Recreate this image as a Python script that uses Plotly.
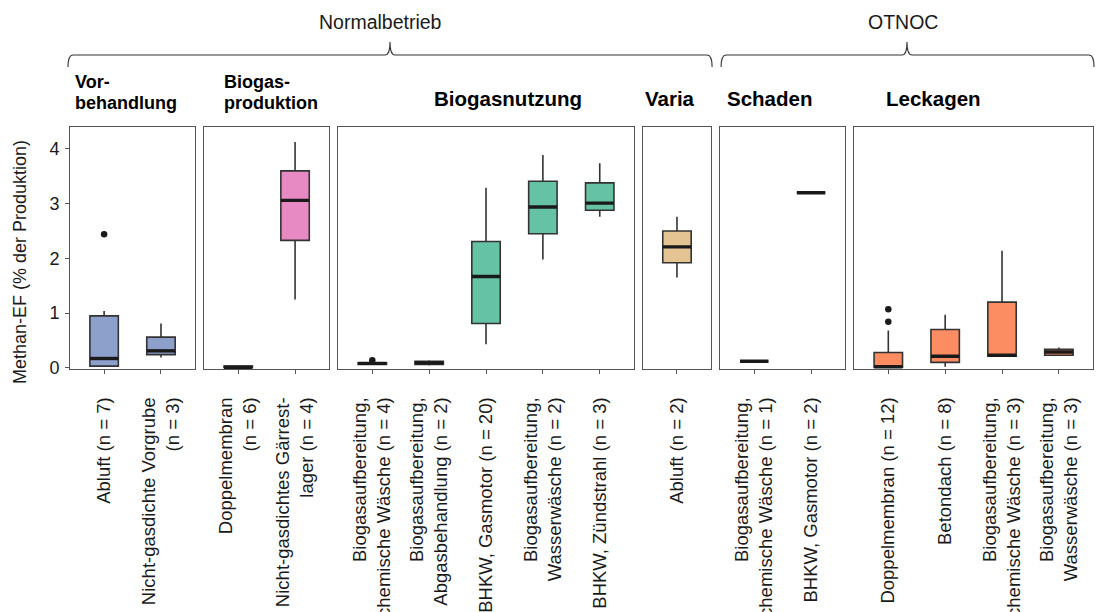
import plotly.graph_objects as go

# ---- data -------------------------------------------------------------
panel_titles = [["Vor-", "behandlung"], ["Biogas-", "produktion"], ["Biogasnutzung"],
                ["Varia"], ["Schaden"], ["Leckagen"]]
panel_colors = ["#8DA0CB", "#E78AC3", "#66C2A5", "#E5C494", "#A6D854", "#FC8D62"]

cats_vorbehandlung = ["Abluft (n = 7)", "Nicht-gasdichte Vorgrube<br>(n = 3)"]
cats_produktion = ["Doppelmembran<br>(n = 6)", "Nicht-gasdichtes Gärrest-<br>lager (n = 4)"]
cats_nutzung = ["Biogasaufbereitung,<br>chemische Wäsche (n = 4)",
                "Biogasaufbereitung,<br>Abgasbehandlung (n = 2)",
                "BHKW, Gasmotor (n = 20)",
                "Biogasaufbereitung,<br>Wasserwäsche (n = 2)",
                "BHKW, Zündstrahl (n = 3)"]
cats_varia = ["Abluft (n = 2)"]
cats_schaden = ["Biogasaufbereitung,<br>chemische Wäsche (n = 1)", "BHKW, Gasmotor (n = 2)"]
cats_leckagen = ["Doppelmembran (n = 12)", "Betondach (n = 8)",
                 "Biogasaufbereitung,<br>chemische Wäsche (n = 3)",
                 "Biogasaufbereitung,<br>Wasserwäsche (n = 3)"]

# box statistics per panel: lower whisker, Q1, median, Q3, upper whisker
lower_vorbehandlung = [0.02, 0.19]
q1_vorbehandlung = [0.03, 0.24]
median_vorbehandlung = [0.17, 0.31]
q3_vorbehandlung = [0.95, 0.56]
upper_vorbehandlung = [1.04, 0.81]

lower_produktion = [0.00, 1.25]
q1_produktion = [0.005, 2.33]
median_produktion = [0.01, 3.06]
q3_produktion = [0.03, 3.60]
upper_produktion = [0.04, 4.13]

lower_nutzung = [0.05, 0.04, 0.43, 1.98, 2.76]
q1_nutzung = [0.06, 0.06, 0.81, 2.45, 2.88]
median_nutzung = [0.08, 0.09, 1.67, 2.94, 3.01]
q3_nutzung = [0.09, 0.12, 2.31, 3.41, 3.38]
upper_nutzung = [0.10, 0.14, 3.29, 3.89, 3.74]

lower_varia = [1.65]
q1_varia = [1.92]
median_varia = [2.21]
q3_varia = [2.50]
upper_varia = [2.76]

lower_schaden = [0.12, 3.20]
q1_schaden = [0.12, 3.20]
median_schaden = [0.12, 3.20]
q3_schaden = [0.12, 3.20]
upper_schaden = [0.12, 3.20]

lower_leckagen = [0.00, 0.02, 0.20, 0.22]
q1_leckagen = [0.01, 0.10, 0.21, 0.23]
median_leckagen = [0.02, 0.21, 0.23, 0.29]
q3_leckagen = [0.28, 0.70, 1.20, 0.34]
upper_leckagen = [0.68, 0.97, 2.14, 0.37]

# outliers: (panel index, category position, value)
outlier_panel = [0, 2, 5, 5]
outlier_pos = [1, 1, 1, 1]
outlier_value = [2.44, 0.14, 0.84, 1.07]

group_labels = ["Normalbetrieb", "OTNOC"]
y_ticks = [0, 1, 2, 3, 4]

panels = [
    (cats_vorbehandlung, lower_vorbehandlung, q1_vorbehandlung, median_vorbehandlung, q3_vorbehandlung, upper_vorbehandlung),
    (cats_produktion, lower_produktion, q1_produktion, median_produktion, q3_produktion, upper_produktion),
    (cats_nutzung, lower_nutzung, q1_nutzung, median_nutzung, q3_nutzung, upper_nutzung),
    (cats_varia, lower_varia, q1_varia, median_varia, q3_varia, upper_varia),
    (cats_schaden, lower_schaden, q1_schaden, median_schaden, q3_schaden, upper_schaden),
    (cats_leckagen, lower_leckagen, q1_leckagen, median_leckagen, q3_leckagen, upper_leckagen),
]

# ---- geometry -------------------------------------------------------------
W, H = 1096, 612
ML, MR, MT, MB = 70, 3, 127, 243
PW, PH = W - ML - MR, H - MT - MB
GAP = 9
BOX_W = 0.5
FONT = "Liberation Sans, Arial, sans-serif"
TXT = "#1a1a1a"
BORDER = "#555555"

units = [len(p[0]) + 0.2 for p in panels]
unit_px = (PW - GAP * (len(panels) - 1)) / sum(units)


def px_x(px):
    return (px - ML) / PW


def px_y(py):
    return (H - MB - py) / PH


fig = go.Figure()
layout = {}
domains = []
left = 0.0
for i, (cats, lo, q1, med, q3, up) in enumerate(panels):
    n = len(cats)
    width_px = units[i] * unit_px
    d0 = left / PW
    d1 = (left + width_px) / PW
    domains.append((d0, d1))
    left += width_px + GAP
    sfx = "" if i == 0 else str(i + 1)
    xa, ya = "x" + sfx, "y" + sfx
    pos = list(range(1, n + 1))

    fig.add_trace(go.Box(
        x=pos, q1=q1, median=med, q3=q3, lowerfence=lo, upperfence=up,
        width=BOX_W, whiskerwidth=0, boxpoints=False,
        fillcolor=panel_colors[i], line=dict(color="#333333", width=1.6),
        xaxis=xa, yaxis=ya, showlegend=False, hoverinfo="skip",
    ))
    # thick median bars
    mx, my = [], []
    for p, m in zip(pos, med):
        mx += [p - BOX_W / 2, p + BOX_W / 2, None]
        my += [m, m, None]
    fig.add_trace(go.Scatter(
        x=mx, y=my, mode="lines", line=dict(color=TXT, width=3.4),
        xaxis=xa, yaxis=ya, showlegend=False, hoverinfo="skip",
    ))
    ox = [p for pi, p in zip(outlier_panel, outlier_pos) if pi == i]
    oy = [v for pi, v in zip(outlier_panel, outlier_value) if pi == i]
    if ox:
        fig.add_trace(go.Scatter(
            x=ox, y=oy, mode="markers", marker=dict(color=TXT, size=6.5),
            xaxis=xa, yaxis=ya, showlegend=False, hoverinfo="skip",
        ))

    layout["xaxis" + sfx] = dict(
        domain=[d0, d1], anchor=ya, range=[0.4, n + 0.6],
        tickmode="array", tickvals=pos, ticktext=cats, tickangle=-90,
        ticks="outside", ticklen=4, tickcolor=BORDER, ticklabelstandoff=16,
        showline=True, linecolor=BORDER, linewidth=1, mirror=True,
        showgrid=False, zeroline=False, automargin=False,
        tickfont=dict(family=FONT, size=18.5, color=TXT),
    )
    yax = dict(
        domain=[0, 1], anchor=xa, range=[-0.022, 4.402],
        showline=True, linecolor=BORDER, linewidth=1, mirror=True,
        showgrid=False, zeroline=False, automargin=False,
    )
    if i == 0:
        yax.update(tickmode="array", tickvals=y_ticks, ticks="outside", ticklen=4,
                   tickcolor=BORDER, ticklabelstandoff=2,
                   tickfont=dict(family=FONT, size=18, color=TXT))
    else:
        yax.update(matches="y", showticklabels=False, ticks="")
    layout["yaxis" + sfx] = yax

# strip titles (one annotation per line for tight line spacing)
title_left_px = [73, 222, 432, 643, 725, 884]
annotations = []
for lines, lx in zip(panel_titles, title_left_px):
    if len(lines) == 1:
        rows, size = [(lines[0], 98)], 20.5
    else:
        rows, size = [(lines[0], 82), (lines[1], 103)], 18
    for text, cy in rows:
        annotations.append(dict(
            text="<b>" + text + "</b>", x=px_x(lx), y=px_y(cy), xref="paper", yref="paper",
            xanchor="left", yanchor="middle", align="left", showarrow=False,
            font=dict(family=FONT, size=size, color="#000000"),
        ))

# y-axis title
annotations.append(dict(
    text="Methan-EF (% der Produktion)", x=px_x(20), y=px_y(262), xref="paper", yref="paper",
    xanchor="center", yanchor="middle", textangle=-90, showarrow=False,
    font=dict(family=FONT, size=18, color=TXT),
))


# group braces above the panels
def brace_path(x0, x1, xm, y_line=55, y_end=67, y_peak=42, r=5):
    pts = lambda x, y: f"{px_x(x):.5f},{px_y(y):.5f}"
    return (f"M {pts(x0, y_end)} Q {pts(x0, y_line)} {pts(x0 + r, y_line)} "
            f"L {pts(xm - r, y_line)} Q {pts(xm, y_line)} {pts(xm, y_peak)} "
            f"Q {pts(xm, y_line)} {pts(xm + r, y_line)} "
            f"L {pts(x1 - r, y_line)} Q {pts(x1, y_line)} {pts(x1, y_end)}")


groups = [(0, 3, 390, 380), (4, 5, 907, 903)]
shapes = []
for (first, last, peak_px, label_px), label in zip(groups, group_labels):
    x0 = ML + domains[first][0] * PW - 2
    x1 = ML + domains[last][1] * PW + 1
    if first > 0:
        x0 += 3
    shapes.append(dict(type="path", path=brace_path(x0, x1, peak_px),
                       xref="paper", yref="paper", line=dict(color="#333333", width=1.1)))
    annotations.append(dict(
        text=label, x=px_x(label_px), y=px_y(22), xref="paper", yref="paper",
        xanchor="center", yanchor="middle", showarrow=False,
        font=dict(family=FONT, size=19.5, color=TXT),
    ))

fig.update_layout(
    width=W, height=H, margin=dict(l=ML, r=MR, t=MT, b=MB, autoexpand=False),
    paper_bgcolor="white", plot_bgcolor="white",
    annotations=annotations, shapes=shapes, **layout,
)

fig.write_html("out.html", config={"displayModeBar": False})
